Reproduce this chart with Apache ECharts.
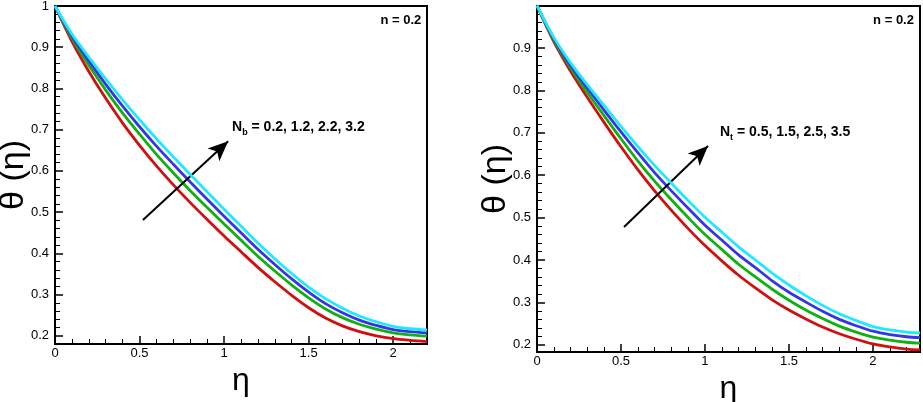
<!DOCTYPE html>
<html><head><meta charset="utf-8">
<script src="https://cdn.jsdelivr.net/npm/echarts@6/dist/echarts.min.js"></script>
<style>html,body{margin:0;padding:0;background:#fff}#c{width:923px;height:402px}</style>
</head><body><div id="c"></div>
<script>
// ---- data ----
const etaLeft = [0,0.1,0.2,0.3,0.4,0.5,0.6,0.7,0.8,0.9,1.0,1.1,1.2,1.3,1.4,1.5,1.6,1.7,1.8,1.9,2.0,2.1,2.2];
const nb02 = [1.000,0.914,0.841,0.776,0.716,0.662,0.612,0.566,0.523,0.482,0.442,0.404,0.366,0.331,0.298,0.268,0.243,0.224,0.210,0.200,0.193,0.189,0.186];
const nb12 = [1.000,0.922,0.856,0.796,0.740,0.689,0.640,0.595,0.552,0.511,0.471,0.432,0.393,0.357,0.323,0.292,0.265,0.244,0.228,0.216,0.207,0.202,0.199];
const nb22 = [1.000,0.927,0.867,0.810,0.757,0.707,0.660,0.616,0.573,0.531,0.490,0.450,0.410,0.373,0.338,0.306,0.278,0.256,0.238,0.225,0.215,0.210,0.207];
const nb32 = [1.000,0.932,0.876,0.823,0.772,0.724,0.678,0.634,0.591,0.549,0.507,0.466,0.425,0.387,0.351,0.318,0.290,0.267,0.248,0.234,0.223,0.217,0.214];

const etaRight = [0,0.1,0.2,0.3,0.4,0.5,0.6,0.7,0.8,0.9,1.0,1.1,1.2,1.3,1.4,1.5,1.6,1.7,1.8,1.9,2.0,2.1,2.2,2.28];
const nt05 = [1.000,0.915,0.845,0.783,0.724,0.667,0.613,0.563,0.517,0.474,0.434,0.398,0.364,0.334,0.306,0.282,0.261,0.242,0.226,0.213,0.202,0.195,0.190,0.188];
const nt15 = [1.000,0.919,0.853,0.795,0.740,0.686,0.634,0.586,0.542,0.500,0.460,0.425,0.390,0.360,0.331,0.305,0.282,0.262,0.244,0.230,0.218,0.211,0.206,0.204];
const nt25 = [1.000,0.922,0.859,0.805,0.753,0.702,0.653,0.606,0.563,0.522,0.482,0.447,0.412,0.382,0.351,0.324,0.301,0.279,0.260,0.245,0.232,0.224,0.219,0.217];
const nt35 = [1.000,0.925,0.865,0.813,0.764,0.715,0.668,0.623,0.581,0.540,0.501,0.466,0.431,0.400,0.369,0.341,0.316,0.293,0.273,0.257,0.243,0.235,0.230,0.228];

const colors = ['#d01010', '#10b010', '#3535e8', '#20e8ff'];
const leftLabel = ['N', 'b', ' = 0.2, 1.2, 2.2, 3.2'];
const rightLabel = ['N', 't', ' = 0.5, 1.5, 2.5, 3.5'];
const nText = 'n = 0.2';
// annotation anchors in data coordinates
const leftArrow = [[0.52, 0.481], [1.024, 0.672]];
const rightArrow = [[0.518, 0.478], [1.018, 0.669]];
const leftTextAt = [1.047, 0.706];
const rightTextAt = [1.089, 0.702];
const leftNAt = [2.166, 0.966];
const rightNAt = [2.244, 0.966];

const FONT = 'Liberation Sans';
const chart = echarts.init(document.getElementById('c'), null, {renderer: 'canvas'});

function pairs(xs, ys) { return xs.map((x, i) => [x, ys[i]]); }
function xAxis(gi, max) {
  return {
    type: 'value', gridIndex: gi, min: 0, max: max, interval: 0.5,
    name: 'η', nameLocation: 'middle', nameGap: 21, nameMoveOverlap: false,
    nameTextStyle: {fontFamily: FONT, fontSize: 32, color: '#000'},
    axisLine: {show: true, lineStyle: {color: '#000', width: 2}},
    axisTick: {show: true, inside: true, length: 8, lineStyle: {color: '#000', width: 1.5}},
    minorTick: {show: true, splitNumber: 5, length: 5, lineStyle: {color: '#000', width: 1}},
    splitLine: {show: false},
    axisLabel: {fontFamily: FONT, fontSize: 13, color: '#000', margin: 3,
      formatter: v => Math.abs(v * 2 - Math.round(v * 2)) < 1e-6 ? String(v) : ''}
  };
}
function yAxis(gi, min, max) {
  return {
    type: 'value', gridIndex: gi, min: min, max: max, splitNumber: 8,
    minInterval: 0.1, maxInterval: 0.1,
    name: 'θ (η)', nameLocation: 'middle', nameGap: 24, nameMoveOverlap: false,
    nameTextStyle: {fontFamily: FONT, fontSize: 34, color: '#000'},
    axisLine: {show: true, lineStyle: {color: '#000', width: 2}},
    axisTick: {show: true, inside: true, length: 8, lineStyle: {color: '#000', width: 1.5}},
    minorTick: {show: true, splitNumber: 5, length: 5, lineStyle: {color: '#000', width: 1}},
    splitLine: {show: false},
    axisLabel: {fontFamily: FONT, fontSize: 13, color: '#000', margin: 6,
      formatter: v => { const r = Math.round(v * 10) / 10; return Math.abs(v - r) < 1e-6 ? String(r) : ''; }}
  };
}
function line(gi, xs, ys, ci, arrow) {
  const s = {
    type: 'line', xAxisIndex: gi, yAxisIndex: gi, data: pairs(xs, ys),
    showSymbol: false, smooth: 0.3, lineStyle: {color: colors[ci], width: 2.8},
    itemStyle: {color: colors[ci]}, z: 2 + ci
  };
  if (arrow) {
    s.markLine = {
      silent: true, symbol: ['none', 'arrow'], symbolSize: [13, 20],
      lineStyle: {color: '#000', width: 2, type: 'solid'}, label: {show: false},
      data: [[{coord: arrow[0]}, {coord: arrow[1]}]]
    };
  }
  return s;
}

chart.setOption({
  animation: false,
  backgroundColor: '#fff',
  grid: [
    {left: 55, top: 6, width: 372, height: 338, containLabel: false, outerBoundsMode: 'none', show: true, borderColor: '#000', borderWidth: 2, backgroundColor: 'transparent'},
    {left: 537, top: 6, width: 383, height: 346, containLabel: false, outerBoundsMode: 'none', show: true, borderColor: '#000', borderWidth: 2, backgroundColor: 'transparent'}
  ],
  xAxis: [xAxis(0, 2.2), xAxis(1, 2.28)],
  yAxis: [yAxis(0, 0.18, 1.0), yAxis(1, 0.183, 0.999)],
  series: [
    line(0, etaLeft, nb02, 0), line(0, etaLeft, nb12, 1), line(0, etaLeft, nb22, 2), line(0, etaLeft, nb32, 3, leftArrow),
    line(1, etaRight, nt05, 0), line(1, etaRight, nt15, 1), line(1, etaRight, nt25, 2), line(1, etaRight, nt35, 3, rightArrow)
  ]
});

function px(gi, pt) { return chart.convertToPixel({gridIndex: gi}, pt); }
function richLabel(gi, at, parts) {
  const p = px(gi, at);
  return {
    type: 'text', x: p[0], y: p[1], z: 100,
    style: {
      text: '{a|' + parts[0] + '}{s|' + parts[1] + '}{a|' + parts[2] + '}',
      verticalAlign: 'middle', align: 'left',
      rich: {
        a: {fontFamily: FONT, fontWeight: 'bold', fontSize: 14, fill: '#000', lineHeight: 20, verticalAlign: 'middle'},
        s: {fontFamily: FONT, fontWeight: 'bold', fontSize: 9, fill: '#000', lineHeight: 20, verticalAlign: 'bottom'}
      }
    }
  };
}
function nLabel(gi, at) {
  const p = px(gi, at);
  return {type: 'text', x: p[0], y: p[1], z: 100,
    style: {text: nText, fontFamily: FONT, fontWeight: 'bold', fontSize: 13, fill: '#000', align: 'right', verticalAlign: 'middle'}};
}
chart.setOption({graphic: [
  richLabel(0, leftTextAt, leftLabel), richLabel(1, rightTextAt, rightLabel),
  nLabel(0, leftNAt), nLabel(1, rightNAt)
]});
</script></body></html>
